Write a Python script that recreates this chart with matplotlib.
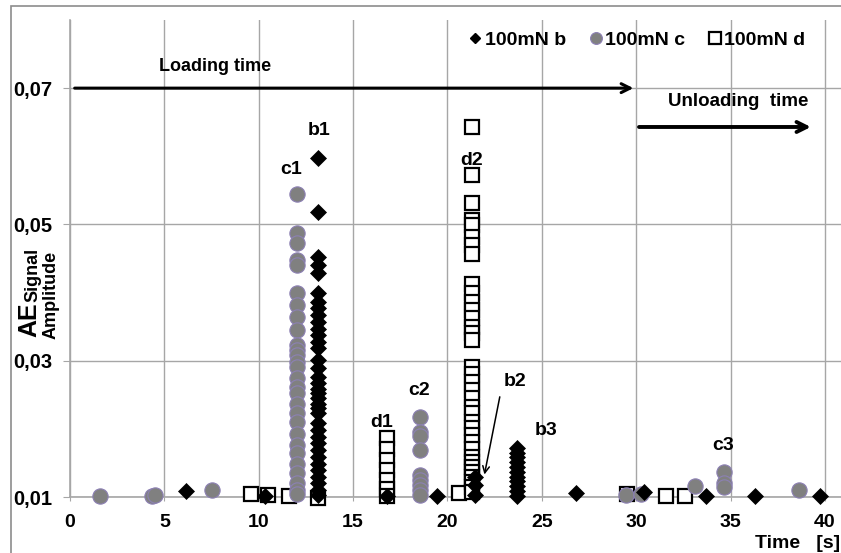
import matplotlib
matplotlib.use("Agg")
import matplotlib.pyplot as plt
from matplotlib.lines import Line2D
from matplotlib.patches import Rectangle

plt.rcParams['font.family'] = ['Liberation Sans', 'DejaVu Sans']
plt.rcParams['font.weight'] = 'bold'

# ---------------- data ----------------
# series "100mN b" (black diamonds)
b_single_x = [6.15, 10.35, 16.8, 19.45, 26.8, 30.4, 33.7, 36.3, 39.75]
b_single_y = [0.0109, 0.0102, 0.0102, 0.0101, 0.0106, 0.0107, 0.0101, 0.0101, 0.0101]
b1_x = 13.15
b1_y = [0.0597, 0.0518, 0.0452, 0.0440, 0.0428, 0.0399, 0.0386, 0.0377, 0.0367,
        0.0357, 0.0347, 0.0338, 0.0328, 0.0318, 0.0301, 0.0289, 0.0276, 0.0267,
        0.0259, 0.0252, 0.0245, 0.0237, 0.0230, 0.0223, 0.0208, 0.0198, 0.0188,
        0.0179, 0.0169, 0.0159, 0.0149, 0.0140, 0.0130, 0.0120, 0.0110, 0.0103]
b2_x = 21.45
b2_y = [0.0130, 0.0118, 0.0103]
b3_x = 23.7
b3_y = [0.0172, 0.0165, 0.0158, 0.0151, 0.0144, 0.0137, 0.0130, 0.0123,
        0.0116, 0.0109, 0.0102]

# series "100mN c" (grey circles)
c_single_x = [1.6, 4.35, 4.5, 7.55, 29.45, 30.25, 33.1, 38.6]
c_single_y = [0.0101, 0.0102, 0.0103, 0.0110, 0.0103, 0.0104, 0.0116, 0.0111]
c1_x = 12.03
c1_y = [0.0544, 0.0487, 0.0473, 0.0448, 0.0440, 0.0399, 0.0382, 0.0364, 0.0345,
        0.0323, 0.0316, 0.0308, 0.0298, 0.0291, 0.0274, 0.0262, 0.0252, 0.0237,
        0.0223, 0.0210, 0.0193, 0.0176, 0.0164, 0.0149, 0.0135, 0.0120, 0.0110,
        0.0105]
c2_x = 18.54
c2_y = [0.0218, 0.0196, 0.0190, 0.0169, 0.0132, 0.0125, 0.0118, 0.0110, 0.0103]
c3_x = 34.65
c3_y = [0.0136, 0.0120, 0.0114]

# series "100mN d" (open squares)
d_single_x = [9.6, 10.5, 11.6, 13.15, 20.6, 29.5, 31.6, 32.6]
d_single_y = [0.0104, 0.0103, 0.0101, 0.0099, 0.0106, 0.0104, 0.0101, 0.0101]
d1_x = 16.8
d1_y = [0.0186, 0.0170, 0.0155, 0.0140, 0.0125, 0.0112, 0.0102]
d2_x = 21.28
d2_y = [0.0643, 0.0572, 0.0531, 0.0506, 0.0499, 0.0482, 0.0470, 0.0457, 0.0413,
        0.0399, 0.0386, 0.0374, 0.0362, 0.0350, 0.0340, 0.0330, 0.0291, 0.0281,
        0.0269, 0.0257, 0.0245, 0.0232, 0.0223, 0.0210, 0.0201, 0.0191, 0.0181,
        0.0171, 0.0159, 0.0152, 0.0144, 0.0137, 0.0130, 0.0122, 0.0115, 0.0108]

series_names = ['100mN b', '100mN c', '100mN d']
x_ticks = [0, 5, 10, 15, 20, 25, 30, 35, 40]
y_ticks = [0.01, 0.03, 0.05, 0.07]
y_tick_labels = ['0,01', '0,03', '0,05', '0,07']

# peak labels: (text, x, y)
peak_labels = [('b1', 13.2, 0.0638), ('c1', 11.7, 0.0580), ('d2', 21.25, 0.0594),
               ('d1', 16.5, 0.0209), ('c2', 18.5, 0.0256), ('b2', 23.6, 0.0270),
               ('b3', 25.2, 0.0198), ('c3', 34.6, 0.0176)]


def column(xv, ys):
    return [xv] * len(ys), ys


bx = b_single_x + column(b1_x, b1_y)[0] + column(b2_x, b2_y)[0] + column(b3_x, b3_y)[0]
by = b_single_y + b1_y + b2_y + b3_y
cx = c_single_x + column(c1_x, c1_y)[0] + column(c2_x, c2_y)[0] + column(c3_x, c3_y)[0]
cy = c_single_y + c1_y + c2_y + c3_y
dx = d_single_x + column(d1_x, d1_y)[0] + column(d2_x, d2_y)[0]
dy = d_single_y + d1_y + d2_y

# ---------------- figure ----------------
W, H = 841, 553
fig = plt.figure(figsize=(W / 100, H / 100), dpi=100)
ax = fig.add_axes([70 / W, 1 - 497 / H, (W - 70) / W, (497 - 20) / H])

grid_c = '#a6a6a6'
ax.set_xlim(0, 40.85)
ax.set_ylim(0.01, 0.08)
ax.set_xticks(x_ticks)
ax.set_xticklabels([str(t) for t in x_ticks], fontsize=14, fontweight='bold')
ax.set_yticks(y_ticks)
ax.set_yticklabels(y_tick_labels, fontsize=14.5, fontweight='bold')
ax.grid(True, color=grid_c, lw=1)
ax.set_axisbelow(True)
for s in ['top', 'right']:
    ax.spines[s].set_visible(False)
for s in ['left', 'bottom']:
    ax.spines[s].set_color(grid_c)
    ax.spines[s].set_linewidth(1.2)
ax.tick_params(axis='y', length=5, color=grid_c, pad=8)
ax.tick_params(axis='x', length=3, color=grid_c, pad=9)

sq_style = dict(marker='s', ms=10, mfc='white', mec='black', mew=1.6, ls='none')
ci_style = dict(marker='o', ms=11, mfc='#808080', mec='#8c80b4', mew=0.8, ls='none')
di_style = dict(marker='D', ms=8.2, mfc='black', mec='black', mew=0.5, ls='none')

ax.plot(dx, dy, clip_on=False, zorder=3, **sq_style)
ax.plot(cx, cy, clip_on=False, zorder=4, **ci_style)
ax.plot(bx, by, clip_on=False, zorder=5, **di_style)

# legend
handles = [Line2D([], [], marker='D', ms=5.5, mfc='black', mec='black', ls='none'),
           Line2D([], [], marker='o', ms=8.5, mfc='#808080', mec='#8c80b4', mew=0.8, ls='none'),
           Line2D([], [], marker='s', ms=8, mfc='white', mec='black', mew=1.6, ls='none')]
fig.legend(handles, series_names, loc='center', bbox_to_anchor=(637 / W, 1 - 40 / H),
           ncol=3, frameon=False, handlelength=0.7, handletextpad=0.12,
           columnspacing=1.2, prop={'size': 14, 'weight': 'bold'})

# loading / unloading arrows
ax.annotate('', xy=(30, 0.07), xytext=(0.1, 0.07),
            arrowprops=dict(arrowstyle='->', lw=2.2, color='black', mutation_scale=16))
ax.text(7.7, 0.0732, 'Loading time', ha='center', va='center', fontsize=13, fontweight='bold')
ax.annotate('', xy=(39.4, 0.0643), xytext=(30, 0.0643),
            arrowprops=dict(arrowstyle='->', lw=2.8, color='black', mutation_scale=18))
ax.text(35.4, 0.0681, 'Unloading  time', ha='center', va='center', fontsize=13.5, fontweight='bold')

for t, xv, yv in peak_labels:
    ax.text(xv, yv, t, ha='center', va='center', fontsize=14, fontweight='bold')

# b2 pointer
ax.annotate('', xy=(21.93, 0.0129), xytext=(22.8, 0.0251),
            arrowprops=dict(arrowstyle='->', lw=1.1, color='black', mutation_scale=12))

# axis titles
fig.text(29 / W, 1 - 337 / H, 'AE', rotation=90, ha='center', va='bottom',
         fontsize=18, fontweight='bold')
fig.text(33 / W, 1 - 302 / H, 'Signal', rotation=90, ha='center', va='bottom',
         fontsize=13, fontweight='bold')
fig.text(51 / W, 1 - 339 / H, 'Amplitude', rotation=90, ha='center', va='bottom',
         fontsize=13, fontweight='bold')
fig.text(840 / W, 1 - 543 / H, 'Time   [s]', ha='right', va='center',
         fontsize=14, fontweight='bold')

# chart area border
fig.patches.append(Rectangle((11 / W, -0.1), 1.2, 1.1 - 6 / H, transform=fig.transFigure,
                             fill=False, ec='#8c8c8c', lw=1.2))

fig.savefig('out.png', dpi=100)
